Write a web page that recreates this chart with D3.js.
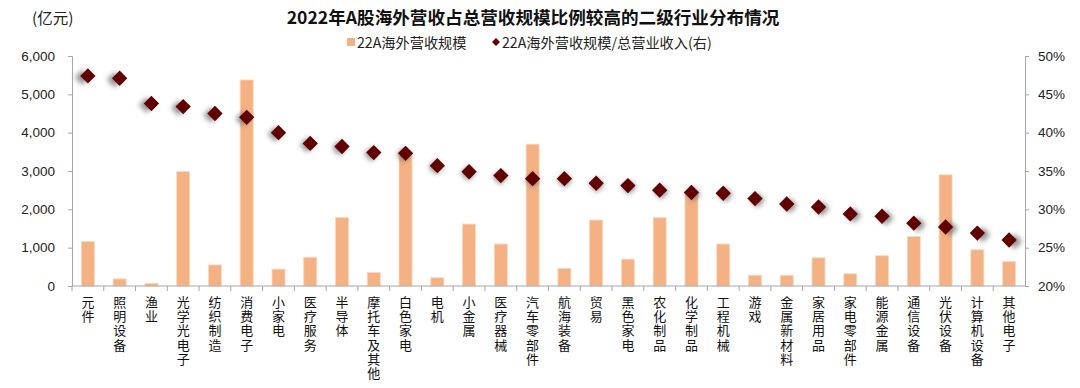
<!DOCTYPE html>
<html>
<head>
<meta charset="utf-8">
<script src="https://cdn.jsdelivr.net/npm/d3@7"></script>
<style>
  html, body { margin: 0; padding: 0; background: #fff; }
  svg { display: block; font-family: "Liberation Sans", Arial, "Noto Sans CJK SC", sans-serif; }
  .cjk { font-family: "Noto Sans CJK SC", sans-serif; }
</style>
</head>
<body>
<div id="chart"></div>
<script>
const categories = [
  "元件", "照明设备", "渔业", "光学光电子", "纺织制造", "消费电子", "小家电", "医疗服务",
  "半导体", "摩托车及其他", "白色家电", "电机", "小金属", "医疗器械", "汽车零部件", "航海装备",
  "贸易", "黑色家电", "农化制品", "化学制品", "工程机械", "游戏", "金属新材料", "家居用品",
  "家电零部件", "能源金属", "通信设备", "光伏设备", "计算机设备", "其他电子",
];
// 22A海外营收规模 (亿元)
const revenue = [
  1160, 185, 70, 2985, 550, 5375, 440, 750,
  1785, 350, 3400, 215, 1615, 1095, 3700, 460,
  1720, 700, 1780, 2450, 1095, 280, 280, 735,
  320, 790, 1290, 2900, 945, 640,
];
// 22A海外营收规模/总营业收入 (%)
const ratio = [
  47.4, 47.1, 43.8, 43.4, 42.5, 42.0, 40.0, 38.6,
  38.2, 37.4, 37.3, 35.7, 34.9, 34.4, 34.0, 34.0,
  33.4, 33.1, 32.5, 32.2, 32.1, 31.4, 30.7, 30.3,
  29.4, 29.1, 28.2, 27.7, 26.9, 26.0,
];
const leftTicks = [0, 1000, 2000, 3000, 4000, 5000, 6000];
const rightTicks = [20, 25, 30, 35, 40, 45, 50];

const width = 1080, height = 388;
const margin = { top: 56, right: 55, bottom: 102, left: 72 };
const axisColor = "#a6a6a6";
const barColor = "#f4b183";
const dotColor = "#600000";

const svg = d3.select("#chart").append("svg")
  .attr("width", width)
  .attr("height", height);

const x = d3.scaleBand()
  .domain(categories)
  .range([margin.left, width - margin.right])
  .paddingInner(0.59)
  .paddingOuter(0.295);

const xOuter = d3.scaleBand()
  .domain(categories)
  .range([margin.left, width - margin.right]);

const yLeft = d3.scaleLinear()
  .domain([0, 6000])
  .range([height - margin.bottom, margin.top]);

const yRight = d3.scaleLinear()
  .domain([20, 50])
  .range([height - margin.bottom, margin.top]);

// shadow filter for the diamonds
const defs = svg.append("defs");
defs.append("filter")
  .attr("id", "blur")
  .attr("x", "-100%").attr("y", "-100%")
  .attr("width", "300%").attr("height", "300%")
  .append("feGaussianBlur")
  .attr("stdDeviation", 2.6);

// title
svg.append("text")
  .attr("class", "cjk")
  .attr("x", 533)
  .attr("y", 24)
  .attr("text-anchor", "middle")
  .attr("font-size", 17.6)
  .attr("font-weight", "bold")
  .attr("fill", "#111")
  .text("2022年A股海外营收占总营收规模比例较高的二级行业分布情况");

svg.append("text")
  .attr("class", "cjk")
  .attr("x", 32)
  .attr("y", 24)
  .attr("font-size", 15.5)
  .attr("fill", "#222")
  .text("(亿元)");

// legend
const legend = svg.append("g").attr("class", "cjk").attr("font-size", 14.2).attr("fill", "#222");
legend.append("rect")
  .attr("x", 347).attr("y", 38)
  .attr("width", 8).attr("height", 8)
  .attr("fill", barColor);
legend.append("text")
  .attr("x", 357).attr("y", 47.5)
  .text("22A海外营收规模");
legend.append("path")
  .attr("d", d3.symbol(d3.symbolDiamond2, 40)())
  .attr("transform", "translate(496,42)")
  .attr("fill", dotColor);
legend.append("text")
  .attr("x", 502).attr("y", 47.5)
  .text("22A海外营收规模/总营业收入(右)");

// bars
svg.append("g")
  .selectAll("rect")
  .data(categories)
  .join("rect")
  .attr("x", (d) => x(d))
  .attr("width", x.bandwidth())
  .attr("y", (d, i) => yLeft(revenue[i]))
  .attr("height", (d, i) => yLeft(0) - yLeft(revenue[i]))
  .attr("fill", barColor)
  .attr("stroke", "#fbd9c0")
  .attr("stroke-width", 0.8);

// left axis
const leftAxis = svg.append("g")
  .attr("transform", `translate(${margin.left},0)`)
  .call(d3.axisLeft(yLeft).tickValues(leftTicks).tickSize(4).tickPadding(13)
    .tickFormat(d3.format(",")));
leftAxis.selectAll("path, line").attr("stroke", axisColor);
leftAxis.selectAll("text").attr("font-size", 13.5).attr("fill", "#222")
  .attr("font-family", "Liberation Sans, Arial, sans-serif");

// right axis
const rightAxis = svg.append("g")
  .attr("transform", `translate(${width - margin.right},0)`)
  .call(d3.axisRight(yRight).tickValues(rightTicks).tickSize(4).tickPadding(9)
    .tickFormat((d) => d + "%"));
rightAxis.selectAll("path, line").attr("stroke", axisColor);
rightAxis.selectAll("text").attr("font-size", 13.5).attr("fill", "#222")
  .attr("font-family", "Liberation Sans, Arial, sans-serif");

// x axis baseline with ticks between categories
const base = svg.append("g");
base.append("line")
  .attr("x1", margin.left).attr("x2", width - margin.right)
  .attr("y1", yLeft(0)).attr("y2", yLeft(0))
  .attr("stroke", axisColor);
base.selectAll(".xtick")
  .data(categories)
  .join("line")
  .attr("class", "xtick")
  .attr("x1", (d) => xOuter(d)).attr("x2", (d) => xOuter(d))
  .attr("y1", yLeft(0)).attr("y2", yLeft(0) + 5)
  .attr("stroke", axisColor);

// category labels: vertical, one upright character per text
svg.append("g")
  .selectAll("g")
  .data(categories)
  .join("g")
  .attr("class", "cjk")
  .attr("font-size", 13)
  .attr("fill", "#111")
  .each(function (d) {
    const g = d3.select(this);
    const cxLabel = x(d) + x.bandwidth() / 2;
    Array.from(d).forEach((ch, k) => {
      g.append("text")
        .attr("x", cxLabel)
        .attr("y", yLeft(0) + 9.5 + k * 14.2)
        .style("writing-mode", "vertical-rl")
        .style("text-orientation", "upright")
        .text(ch);
    });
  });

// diamonds with soft shadow
const cx = (d) => x(d) + x.bandwidth() / 2;
const mid = (margin.left + width - margin.right) / 2;
const diamond = d3.symbol(d3.symbolDiamond2, 150)();

svg.append("g")
  .selectAll("path")
  .data(categories)
  .join("path")
  .attr("d", diamond)
  .attr("transform", (d, i) =>
    `translate(${cx(d) + (cx(d) - mid) * 0.012},${yRight(ratio[i]) + 1.5})`)
  .attr("fill", "#7a7a7a")
  .attr("opacity", 0.8)
  .attr("filter", "url(#blur)");

svg.append("g")
  .selectAll("path")
  .data(categories)
  .join("path")
  .attr("d", diamond)
  .attr("transform", (d, i) => `translate(${cx(d)},${yRight(ratio[i])})`)
  .attr("fill", dotColor);
</script>
</body>
</html>
